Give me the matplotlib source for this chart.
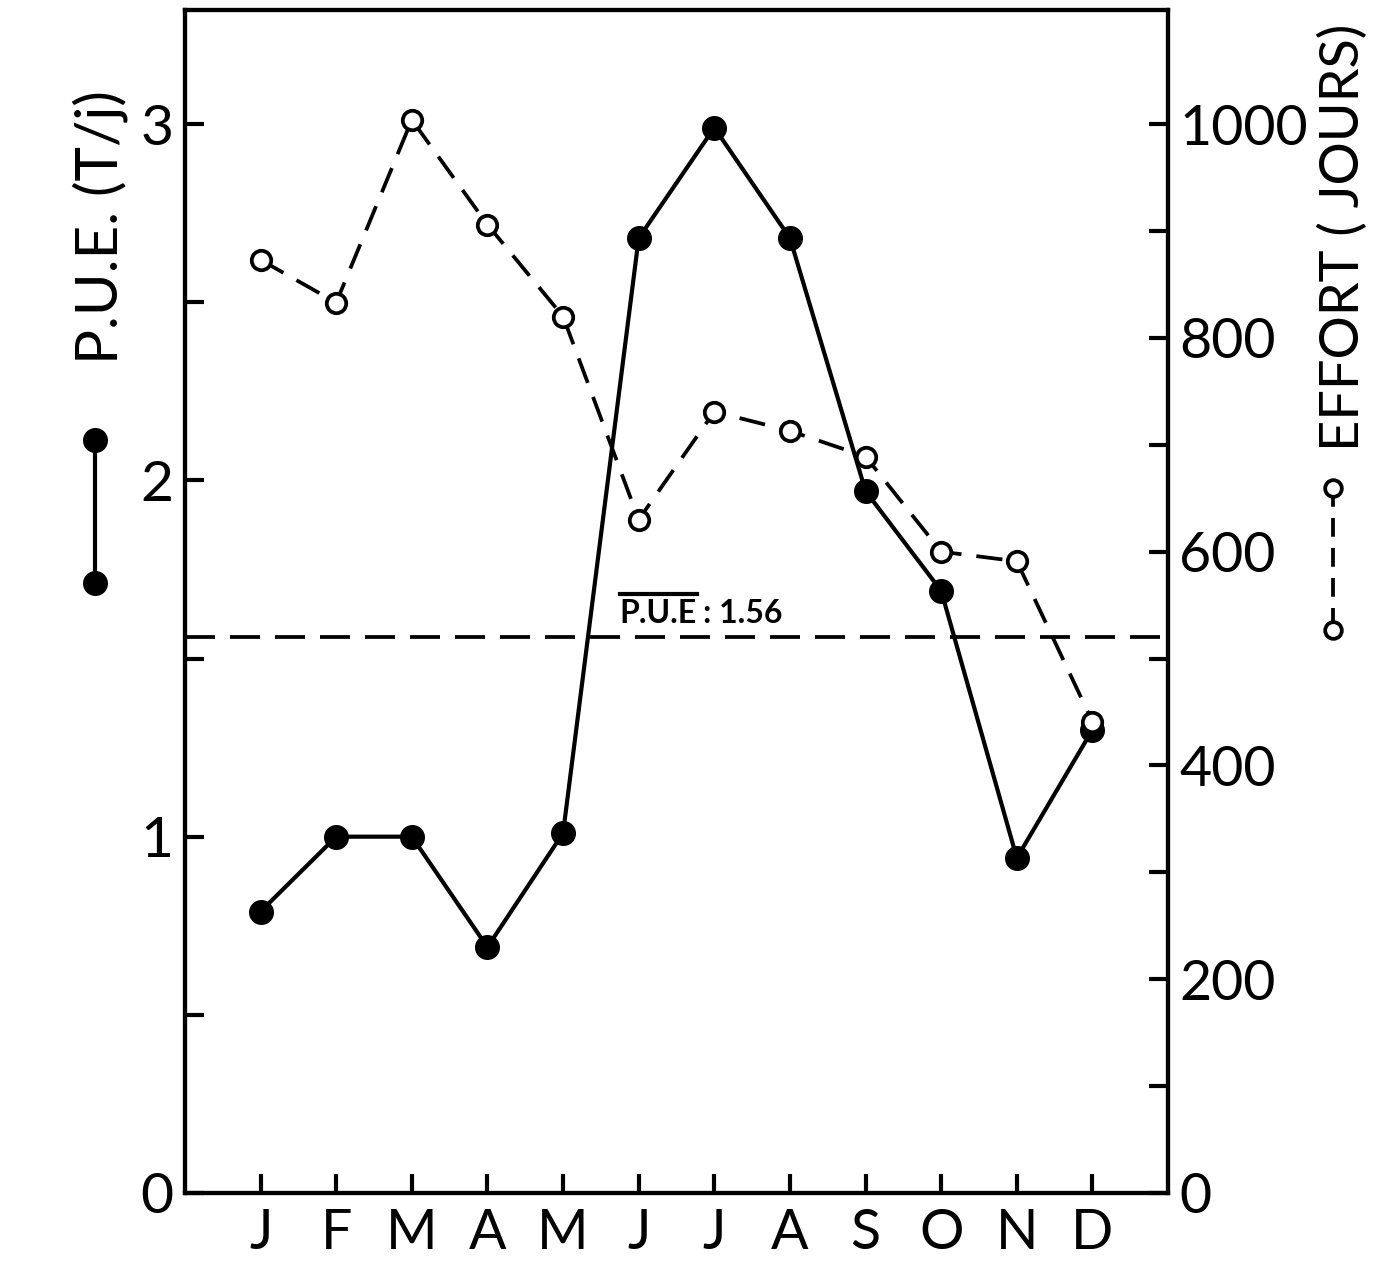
import matplotlib.pyplot as plt
from matplotlib.lines import Line2D

plt.rcParams['font.family'] = ['Lato', 'DejaVu Sans']

# données
mois = ["J", "F", "M", "A", "M", "J", "J", "A", "S", "O", "N", "D"]
pue = [0.79, 1.0, 1.0, 0.69, 1.01, 2.68, 2.99, 2.68, 1.97, 1.69, 0.94, 1.30]
effort = [873, 833, 1004, 906, 820, 630, 731, 713, 689, 600, 591, 441]
pue_moy = 1.56

x = list(range(1, len(mois) + 1))
k = 1000 / 3  # 3 sur l'axe gauche = 1000 sur l'axe droit
ymax = 3.32

fig = plt.figure(figsize=(13.75, 12.64), dpi=100)
ax = fig.add_axes([0.1345, 0.0562, 0.715, 0.9358])
ax2 = ax.twinx()

ax.plot(x, pue, "-", color="black", lw=3, marker="o", ms=17,
        mfc="black", mec="black", zorder=3)
ax2.plot(x, effort, "--", color="black", lw=2.7, dashes=(7, 4), marker="o",
         ms=14, mfc="white", mec="black", mew=2.7, zorder=3)

# moyenne de la PUE
ax.axhline(pue_moy, color="black", lw=2.7, dashes=(8, 4))
t1 = ax.text(5.75, pue_moy + 0.025, "P.U.E", fontsize=23, fontweight="bold",
             ha="left", va="bottom")
t2 = ax.text(6.85, pue_moy + 0.025, ": 1.56", fontsize=23, fontweight="bold",
             ha="left", va="bottom")

ax.set_xlim(0, 13)
ax.set_ylim(0, ymax)
ax2.set_ylim(0, ymax * k)

ax.set_xticks(x)
ax.set_xticklabels(mois)
ax.set_yticks([0, 1, 2, 3])
ax.set_yticks([0.5, 1.5, 2.5], minor=True)
ax2.set_yticks([0, 200, 400, 600, 800, 1000])
ax2.set_yticks([100, 300, 500, 700, 900], minor=True)

ax.tick_params(axis="x", direction="in", length=14, width=3, pad=11,
               labelsize=40)
ax.tick_params(axis="y", which="both", direction="in", length=14, width=3,
               pad=8, labelsize=41)
ax2.tick_params(axis="y", which="both", direction="in", length=14, width=3,
                pad=8, labelsize=40)

for a in (ax, ax2):
    for s in a.spines.values():
        s.set_linewidth(3)

# étiquettes des axes avec leur symbole
fig.text(0.073, 0.82, "P.U.E. (T/j)", rotation=90, ha="center", va="center",
         fontsize=42)
fig.add_artist(Line2D([0.069, 0.069], [0.652, 0.539], color="black", lw=3,
                      marker="o", ms=17, mfc="black"))

fig.text(0.977, 0.812, "EFFORT ( JOURS)", rotation=90, ha="center",
         va="center", fontsize=39)
fig.add_artist(Line2D([0.9695, 0.9695], [0.614, 0.5016], color="black",
                      lw=2.7, dashes=(5, 3), marker="o", ms=12, mfc="white",
                      mew=2.7))

# barre au-dessus de P.U.E
fig.canvas.draw()
bb = t1.get_window_extent().transformed(fig.transFigure.inverted())
fig.add_artist(Line2D([bb.x0, bb.x1], [bb.y1 + 0.004, bb.y1 + 0.004],
                      color="black", lw=3))

fig.savefig("out.png", dpi=100)
